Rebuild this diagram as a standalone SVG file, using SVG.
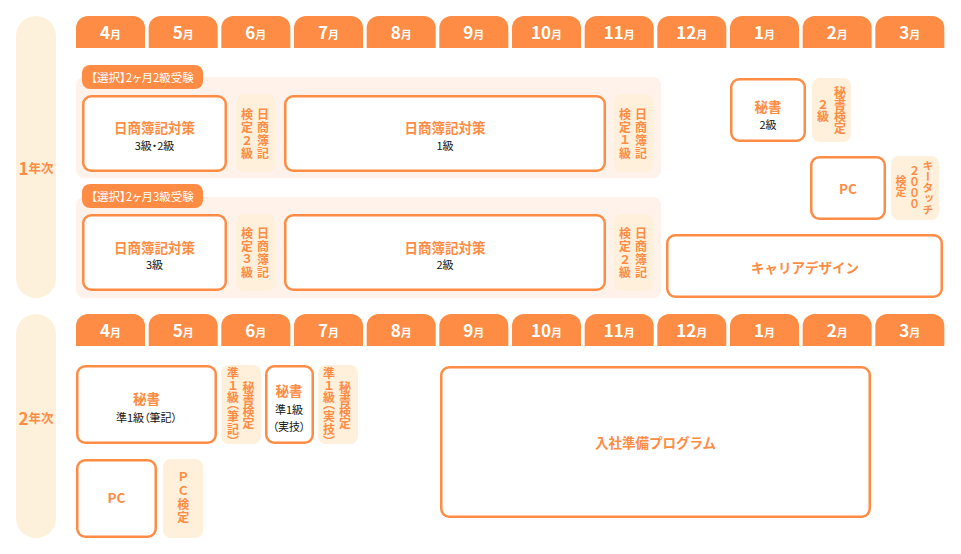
<svg xmlns="http://www.w3.org/2000/svg" width="961" height="554" viewBox="0 0 961 554">
<style>
text{font-family:"Noto Sans CJK JP","Noto Sans",sans-serif}
.tab{fill:#FF8C44}
.mt{fill:#fff;font-weight:700;text-anchor:middle}
.mt .d{font-size:17px}
.mt .m{font-size:11px}
.yp{fill:#FEF1DC}
.yt{fill:#FF8C44;font-weight:700;text-anchor:middle;dominant-baseline:central}
.grp{fill:#FEF2EA}
.pill{fill:#FF8C44}
.pt{fill:#fff;font-size:11.5px;text-anchor:middle;dominant-baseline:central;font-feature-settings:"palt" 1}
.node{fill:#fff;stroke:#FF8C44;stroke-width:2.5}
.nt{fill:#FF8C44;font-size:13.5px;font-weight:700;text-anchor:middle;dominant-baseline:central}
.ns{fill:#111;font-size:11px;text-anchor:middle;dominant-baseline:central;font-feature-settings:"palt" 1}
.lab{fill:#FEF0DA}
.v{fill:#FF8C44;font-size:12px;font-weight:700;text-anchor:middle;writing-mode:vertical-rl}
.vw{letter-spacing:1px}
.vs{font-size:11px}
.vh{font-feature-settings:"vhal" 1;letter-spacing:0.4px}
.vp{letter-spacing:1.6px}
</style>
<defs>
<path id="tab" class="tab" d="M0,32 V12 A12,12 0 0 1 12,0 H57 A12,12 0 0 1 69,12 V32 Z"/>
</defs>

<g id="year1">
<rect class="yp" x="16" y="16" width="40" height="282" rx="20"/>
<text class="yt" x="36" y="167"><tspan font-size="17">1</tspan><tspan font-size="12.5">年次</tspan></text>
</g>
<g id="year2">
<rect class="yp" x="16" y="314" width="40" height="224" rx="20"/>
<text class="yt" x="36" y="417"><tspan font-size="17">2</tspan><tspan font-size="12.5">年次</tspan></text>
</g>

<g id="months1">
<use href="#tab" x="76" y="16"/><text class="mt" x="110.5" y="39"><tspan class="d">4</tspan><tspan class="m">月</tspan></text>
<use href="#tab" x="148.67" y="16"/><text class="mt" x="183.17" y="39"><tspan class="d">5</tspan><tspan class="m">月</tspan></text>
<use href="#tab" x="221.33" y="16"/><text class="mt" x="255.83" y="39"><tspan class="d">6</tspan><tspan class="m">月</tspan></text>
<use href="#tab" x="294" y="16"/><text class="mt" x="328.5" y="39"><tspan class="d">7</tspan><tspan class="m">月</tspan></text>
<use href="#tab" x="366.67" y="16"/><text class="mt" x="401.17" y="39"><tspan class="d">8</tspan><tspan class="m">月</tspan></text>
<use href="#tab" x="439.33" y="16"/><text class="mt" x="473.83" y="39"><tspan class="d">9</tspan><tspan class="m">月</tspan></text>
<use href="#tab" x="512" y="16"/><text class="mt" x="546.5" y="39"><tspan class="d">10</tspan><tspan class="m">月</tspan></text>
<use href="#tab" x="584.67" y="16"/><text class="mt" x="619.17" y="39"><tspan class="d">11</tspan><tspan class="m">月</tspan></text>
<use href="#tab" x="657.33" y="16"/><text class="mt" x="691.83" y="39"><tspan class="d">12</tspan><tspan class="m">月</tspan></text>
<use href="#tab" x="730" y="16"/><text class="mt" x="764.5" y="39"><tspan class="d">1</tspan><tspan class="m">月</tspan></text>
<use href="#tab" x="802.67" y="16"/><text class="mt" x="837.17" y="39"><tspan class="d">2</tspan><tspan class="m">月</tspan></text>
<use href="#tab" x="875.33" y="16"/><text class="mt" x="909.83" y="39"><tspan class="d">3</tspan><tspan class="m">月</tspan></text>
</g>
<g id="months2">
<use href="#tab" x="76" y="314"/><text class="mt" x="110.5" y="337"><tspan class="d">4</tspan><tspan class="m">月</tspan></text>
<use href="#tab" x="148.67" y="314"/><text class="mt" x="183.17" y="337"><tspan class="d">5</tspan><tspan class="m">月</tspan></text>
<use href="#tab" x="221.33" y="314"/><text class="mt" x="255.83" y="337"><tspan class="d">6</tspan><tspan class="m">月</tspan></text>
<use href="#tab" x="294" y="314"/><text class="mt" x="328.5" y="337"><tspan class="d">7</tspan><tspan class="m">月</tspan></text>
<use href="#tab" x="366.67" y="314"/><text class="mt" x="401.17" y="337"><tspan class="d">8</tspan><tspan class="m">月</tspan></text>
<use href="#tab" x="439.33" y="314"/><text class="mt" x="473.83" y="337"><tspan class="d">9</tspan><tspan class="m">月</tspan></text>
<use href="#tab" x="512" y="314"/><text class="mt" x="546.5" y="337"><tspan class="d">10</tspan><tspan class="m">月</tspan></text>
<use href="#tab" x="584.67" y="314"/><text class="mt" x="619.17" y="337"><tspan class="d">11</tspan><tspan class="m">月</tspan></text>
<use href="#tab" x="657.33" y="314"/><text class="mt" x="691.83" y="337"><tspan class="d">12</tspan><tspan class="m">月</tspan></text>
<use href="#tab" x="730" y="314"/><text class="mt" x="764.5" y="337"><tspan class="d">1</tspan><tspan class="m">月</tspan></text>
<use href="#tab" x="802.67" y="314"/><text class="mt" x="837.17" y="337"><tspan class="d">2</tspan><tspan class="m">月</tspan></text>
<use href="#tab" x="875.33" y="314"/><text class="mt" x="909.83" y="337"><tspan class="d">3</tspan><tspan class="m">月</tspan></text>
</g>

<g id="group-2kyu">
<rect class="grp" x="76" y="77" width="585" height="101" rx="8"/>
<rect class="pill" x="82" y="65" width="121" height="24" rx="8"/>
<text class="pt" x="142.5" y="77">【選択】2ヶ月2級受験</text>
</g>
<g id="group-3kyu">
<rect class="grp" x="76" y="197" width="585" height="101" rx="8"/>
<rect class="pill" x="82" y="184" width="121" height="24" rx="8"/>
<text class="pt" x="142.5" y="196">【選択】2ヶ月3級受験</text>
</g>

<g id="n-boki-32">
<rect class="node" x="83.25" y="96.25" width="142.5" height="74.5" rx="8"/>
<text class="nt" x="154.5" y="127">日商簿記対策</text>
<text class="ns" x="154.5" y="144.5">3級・2級</text>
</g>
<g id="l-boki2a">
<rect class="lab" x="236" y="94" width="39" height="78" rx="8"/>
<text class="v vw" x="263" y="134">日商簿記</text>
<text class="v vw" x="247" y="134">検定２級</text>
</g>
<g id="n-boki-1">
<rect class="node" x="285.25" y="96.25" width="319.5" height="74.5" rx="8"/>
<text class="nt" x="445" y="127">日商簿記対策</text>
<text class="ns" x="445" y="144.5">1級</text>
</g>
<g id="l-boki1">
<rect class="lab" x="614" y="94" width="39" height="78" rx="8"/>
<text class="v vw" x="641" y="134">日商簿記</text>
<text class="v vw" x="625" y="134">検定１級</text>
</g>

<g id="n-boki-3">
<rect class="node" x="83.25" y="215.25" width="142.5" height="74.5" rx="8"/>
<text class="nt" x="154.5" y="246.5">日商簿記対策</text>
<text class="ns" x="154.5" y="263.5">3級</text>
</g>
<g id="l-boki3">
<rect class="lab" x="236" y="214" width="39" height="77" rx="8"/>
<text class="v vw" x="263" y="253">日商簿記</text>
<text class="v vw" x="247" y="253">検定３級</text>
</g>
<g id="n-boki-2">
<rect class="node" x="285.25" y="215.25" width="319.5" height="74.5" rx="8"/>
<text class="nt" x="445" y="246.5">日商簿記対策</text>
<text class="ns" x="445" y="263.5">2級</text>
</g>
<g id="l-boki2b">
<rect class="lab" x="614" y="214" width="39" height="77" rx="8"/>
<text class="v vw" x="641" y="253">日商簿記</text>
<text class="v vw" x="625" y="253">検定２級</text>
</g>

<g id="n-hisho-2">
<rect class="node" x="731.25" y="79.25" width="73.5" height="61.5" rx="8"/>
<text class="nt" x="768" y="105.5">秘書</text>
<text class="ns" x="768" y="123.5">2級</text>
</g>
<g id="l-hisho2">
<rect class="lab" x="812" y="78" width="39" height="64" rx="8"/>
<text class="v" x="840" y="110">秘書検定</text>
<text class="v" x="823" y="110">２級</text>
</g>
<g id="n-pc1">
<rect class="node" x="811.25" y="157.25" width="73.5" height="61.5" rx="8"/>
<text class="nt" x="848" y="188">PC</text>
</g>
<g id="l-keytouch">
<rect class="lab" x="891" y="156" width="48" height="64" rx="8"/>
<text class="v vs" x="928" y="188">キータッチ</text>
<text class="v vs" x="914.5" y="187">２０００</text>
<text class="v vs" x="901" y="186">検定</text>
</g>
<g id="n-career">
<rect class="node" x="667.25" y="235.25" width="274.5" height="61.5" rx="8"/>
<text class="nt" x="805" y="267">キャリアデザイン</text>
</g>

<g id="n-hisho-j1w">
<rect class="node" x="77.25" y="366.25" width="138.5" height="76.5" rx="8"/>
<text class="nt" x="146.5" y="398">秘書</text>
<text class="ns" x="146.5" y="416.5">準1級（筆記）</text>
</g>
<g id="l-hisho-j1w">
<rect class="lab" x="221" y="365" width="40" height="79" rx="8"/>
<text class="v vh" x="233" y="404.5">準１級（筆記）</text>
<text class="v" x="248.5" y="405">秘書検定</text>
</g>
<g id="n-hisho-j1p">
<rect class="node" x="266.25" y="366.25" width="46.5" height="76.5" rx="8"/>
<text class="nt" x="289" y="390">秘書</text>
<text class="ns" x="289" y="408.5">準1級</text>
<text class="ns" x="289" y="426">（実技）</text>
</g>
<g id="l-hisho-j1p">
<rect class="lab" x="318" y="365" width="40" height="79" rx="8"/>
<text class="v vh" x="329" y="404.5">準１級（実技）</text>
<text class="v" x="345" y="405">秘書検定</text>
</g>
<g id="n-nyusha">
<rect class="node" x="441.25" y="367.25" width="428.5" height="149.5" rx="8"/>
<text class="nt" x="655.5" y="442">入社準備プログラム</text>
</g>
<g id="n-pc2">
<rect class="node" x="77.25" y="460.25" width="78.5" height="76.5" rx="8"/>
<text class="nt" x="116.5" y="497">PC</text>
</g>
<g id="l-pc">
<rect class="lab" x="163" y="459" width="40" height="79" rx="8"/>
<text class="v vp" x="183.3" y="498">ＰＣ検定</text>
</g>
<g id="connectors"/>
</svg>
